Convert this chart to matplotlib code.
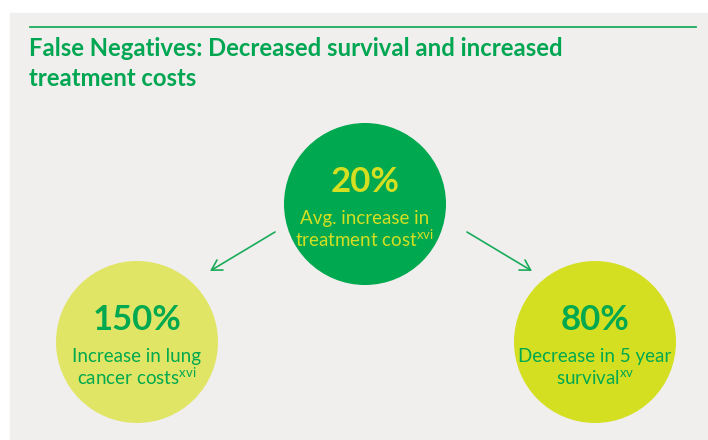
import matplotlib.pyplot as plt
from matplotlib.patches import Circle, Rectangle, FancyArrowPatch

plt.rcParams['font.family'] = ['Lato', 'DejaVu Sans']
plt.rcParams['mathtext.fontset'] = 'custom'
plt.rcParams['mathtext.rm'] = 'Lato'

title_lines = ["False Negatives: Decreased survival and increased", "treatment costs"]
values = ["20%", "150%", "80%"]
line1 = ["Avg. increase in", "Increase in lung", "Decrease in 5 year"]
line2 = ["treatment cost", "cancer costs", "survival"]
refs = ["xvi", "xvi", "xv"]

green = '#00a84f'
lime = '#d5df22'
pale = '#e1e566'
bg = '#f0efed'

# layout (pixel coordinates, y down)
centers = [(365, 204), (137, 342), (595, 342)]
radius = 81
fills = [green, pale, lime]
textcols = [lime, green, green]

fig = plt.figure(figsize=(7.08, 4.40), dpi=100)
ax = fig.add_axes([0, 0, 1, 1])
ax.set_xlim(0, 708)
ax.set_ylim(440, 0)
ax.axis('off')

ax.add_patch(Rectangle((10, 13), 700, 430, color=bg, zorder=0))
ax.plot([30, 696], [27, 27], color='#1aab5a', lw=1.3)
for i, t in enumerate(title_lines):
    ax.text(29, 56 + 30 * i, t, color='#00a651', fontsize=17.2, fontweight='bold',
            va='baseline')

for (cx, cy), v, a, b, r, fc, tc in zip(centers, values, line1, line2, refs, fills, textcols):
    ax.add_patch(Circle((cx, cy), radius, color=fc, zorder=1, lw=0))
    ax.text(cx, cy - 12, v, color=tc, fontsize=25, fontweight='bold',
            ha='center', va='baseline', zorder=2)
    ax.text(cx, cy + 20, a, color=tc, fontsize=13.5, ha='center', va='baseline', zorder=2)
    ax.text(cx, cy + 43, b + r'$^{\mathrm{' + r + '}}$', color=tc, fontsize=13.5,
            ha='center', va='baseline', zorder=2)

arrow_kw = dict(arrowstyle='->,head_length=0.6,head_width=0.35', color='#1aab5a',
                lw=1.2, mutation_scale=12, shrinkA=0, shrinkB=0)
ax.add_patch(FancyArrowPatch((275, 232), (210, 271), **arrow_kw))
ax.add_patch(FancyArrowPatch((467, 232), (532, 271), **arrow_kw))

fig.savefig('out.png', dpi=100)
